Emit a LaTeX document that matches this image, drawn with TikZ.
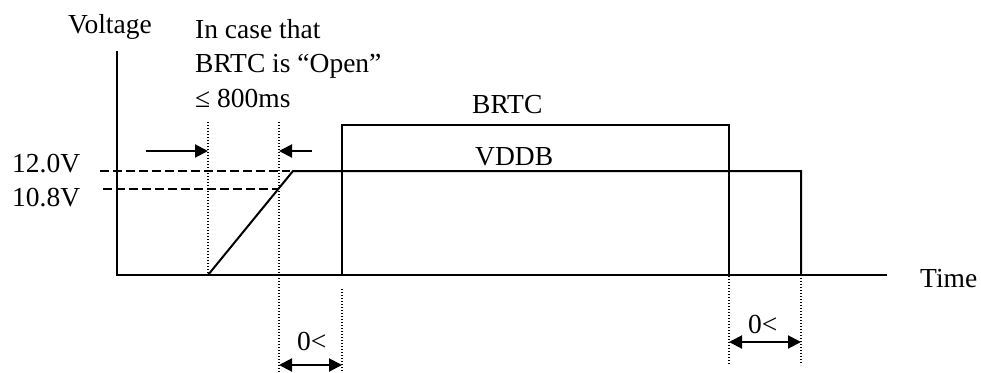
\documentclass[tikz,border=0pt]{standalone}
\usepackage{fontspec}
\setmainfont{Liberation Serif}
\usetikzlibrary{arrows.meta}
\begin{document}
\begin{tikzpicture}[x=1pt,y=-1pt,
  lbl/.style={font=\fontsize{27.5}{33}\selectfont, inner sep=0pt, anchor=base west},
  sig/.style={line width=2pt, line join=miter},
  guide/.style={line width=1.4pt, dash pattern=on 1.4pt off 1.6pt},
  lvl/.style={line width=1.8pt, dash pattern=on 8.5pt off 4.5pt},
  dimarrow/.style={line width=2pt, -{Triangle[length=13pt,width=13pt]}},
  dimboth/.style={line width=2pt, {Triangle[length=13pt,width=13pt]}-{Triangle[length=13pt,width=13pt]}},
]
\useasboundingbox (0,0) rectangle (981,372);

% named points
\coordinate (ytop) at (117,51);
\coordinate (origin) at (117,275);
\coordinate (xend) at (887,275);
\coordinate (rampstart) at (208,275);
\coordinate (ramptop) at (293,171);
\coordinate (vfall) at (801,171);
\coordinate (vend) at (801,275);
\coordinate (bstart) at (342,275);
\coordinate (bup) at (342,125);
\coordinate (bdown) at (729,125);
\coordinate (bend) at (729,275);

% axes
\draw[sig] (ytop) -- (origin) -- (xend);
% VDDB
\draw[sig] (rampstart) -- (ramptop) -- (vfall) -- (vend);
% BRTC
\draw[sig] (bstart) -- (bup) -- (bdown) -- (bend);

% level lines
\coordinate (l12a) at (100,171);
\coordinate (l12b) at (290,171);
\coordinate (l108a) at (100,189);
\coordinate (l108b) at (278,189);
\draw[lvl] (l12a) -- (l12b);
\draw[lvl, dash phase=10pt] (l108a) -- (l108b);

% dotted guides
\coordinate (g1a) at (208,122);
\coordinate (g2a) at (279,122);
\coordinate (g2b) at (279,372);
\coordinate (g3a) at (342,289);
\coordinate (g3b) at (342,372);
\coordinate (g4a) at (729,171);
\coordinate (g4b) at (729,365);
\coordinate (g5b) at (801,365);
\draw[guide] (g1a) -- (rampstart);
\draw[guide] (g2a) -- (g2b);
\draw[guide] (g3a) -- (g3b);
\draw[guide] (g4a) -- (g4b);
\draw[guide] (vend) -- (g5b);

% dimension arrows
\coordinate (a1s) at (146,151);
\coordinate (a1e) at (208,151);
\coordinate (a2s) at (312,151);
\coordinate (a2e) at (279,151);
\draw[dimarrow] (a1s) -- (a1e);
\draw[dimarrow] (a2s) -- (a2e);
\coordinate (b1s) at (279,365);
\coordinate (b1e) at (342,365);
\draw[dimboth] (b1s) -- (b1e);
\coordinate (b2s) at (729,342);
\coordinate (b2e) at (801,342);
\draw[dimboth] (b2s) -- (b2e);

% labels
\node[lbl] (voltage) at (68,33) {Voltage};
\node[lbl] (case1) at (195,38) {In case that};
\node[lbl] (case2) at (195,72) {BRTC is “Open”};
\node[lbl] (case3) at (195,107) {≤ 800ms};
\node[lbl] (v12) at (12,172) {12.0V};
\node[lbl] (v108) at (12,206) {10.8V};
\node[lbl] (brtc) at (472,113) {BRTC};
\node[lbl] (vddb) at (475,165) {VDDB};
\node[lbl] (time) at (920,287) {Time};
\node[lbl] (zero1) at (297,350) {0<};
\node[lbl] (zero2) at (748,333) {0<};
\end{tikzpicture}
\end{document}
